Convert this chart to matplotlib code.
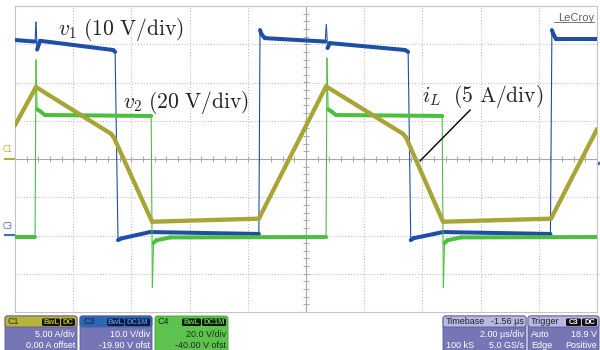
import numpy as np
import matplotlib
matplotlib.use("Agg")
import matplotlib.pyplot as plt
from matplotlib.collections import LineCollection
from matplotlib.patches import FancyBboxPatch

plt.rcParams['mathtext.fontset'] = 'cm'

# channel settings
us_per_div = 2.0
v1_scale, v1_offset = 10.0, -19.90   # C3
v2_scale, v2_offset = 20.0, -40.00   # C4
iL_scale, iL_offset = 5.00, 0.00     # C1

# v1 (C3), time in us from left edge of screen, volts
t_v1 = [0, 0.69, 0.72, 0.76, 0.86, 3.37, 3.44, 3.54, 3.64, 4.64, 8.38, 8.42, 8.47, 8.59,
        10.66, 10.70, 10.74, 10.82, 13.40, 13.51, 13.60, 13.70, 14.71, 18.40, 18.45, 18.50, 18.59, 20.0]
v1 = [51.0, 50.6, 55.7, 48.5, 50.8, 48.4, 47.9, -1.3, -0.9, 0.8, 0.3, 53.6, 52.5, 51.5,
      50.6, 55.0, 48.9, 50.2, 48.4, 47.9, -1.3, -0.8, 0.8, 0.3, 53.6, 52.5, 51.3, 51.3]

# v2 (C4)
t_v2 = [0, 0.69, 0.72, 0.76, 0.86, 1.03, 4.68, 4.72, 4.76, 4.86, 5.33,
        10.69, 10.72, 10.76, 10.86, 11.03, 14.68, 14.72, 14.76, 14.86, 15.33, 20.0]
v2 = [-0.8, -0.8, 91.8, 66.0, 65.0, 63.0, 62.5, -27.0, -3.9, -2.5, -1.0,
      -0.8, 92.8, 66.0, 65.0, 63.0, 62.5, -27.0, -3.9, -2.5, -1.0, -0.8]

# iL (C1), amps
t_iL = [0, 0.72, 3.30, 3.40, 4.71, 8.38, 10.69, 13.33, 13.44, 14.71, 18.42, 20.0]
iL = [4.4, 9.4, 3.3, 2.8, -8.2, -7.8, 9.5, 3.3, 2.8, -8.2, -7.8, 3.9]

PX_X = 58.2 / us_per_div   # pixels per us
PX_Y = 38.25               # pixels per div


def trace(ax, t, vals, scale, offset, color, thick, thin, z):
    x = np.asarray(t, float)
    y = (np.asarray(vals, float) + offset) / scale
    segs = np.stack([np.column_stack([x[:-1], y[:-1]]),
                     np.column_stack([x[1:], y[1:]])], axis=1)
    slope = np.abs(np.diff(y) * PX_Y) / np.maximum(np.abs(np.diff(x)) * PX_X, 1e-9)
    lw = np.where(slope > 5, thin, thick)
    ax.add_collection(LineCollection(segs, colors=color, linewidths=lw,
                                     capstyle='round', joinstyle='round', zorder=z))


fig = plt.figure(figsize=(6, 3.5), dpi=100)
fig.patch.set_facecolor('white')
ax = fig.add_axes([15/600, 38/350, 582/600, 306/350])
ax.set_xlim(0, 20)
ax.set_ylim(-4, 4)
ax.set_xticks([])
ax.set_yticks([])
for s in ax.spines.values():
    s.set_color('#c4c4c4')
    s.set_linewidth(0.8)

# graticule
for k in range(1, 10):
    if k != 5:
        ax.axvline(k * us_per_div, color='#b4b4b4', lw=0.7, ls=(0, (1, 2)), zorder=1)
for k in range(-3, 4):
    if k != 0:
        ax.axhline(k, color='#b4b4b4', lw=0.7, ls=(0, (1, 2)), zorder=1)
ax.axhline(0, color='#a8a8a8', lw=0.8, zorder=1)
ax.axvline(10, color='#a8a8a8', lw=0.8, zorder=1)
tx = np.arange(0.4, 20, 0.4)
ax.vlines(tx, -0.07, 0.07, color='#a8a8a8', lw=0.7, zorder=1)
ty = np.arange(-3.8, 4, 0.2)
ax.hlines(ty, 10 - 0.09, 10 + 0.09, color='#a8a8a8', lw=0.7, zorder=1)

trace(ax, t_v1, v1, v1_scale, v1_offset, '#1f4ea6', 2.9, 0.8, 3)
trace(ax, t_v2, v2, v2_scale, v2_offset, '#4cbf3f', 2.9, 0.8, 4)
trace(ax, t_iL, iL, iL_scale, iL_offset, '#a8a536', 3.1, 3.1, 5)

# labels
ax.text(1.48, 3.24, r'$v_1\ (10\ \mathrm{V/div})$', fontsize=15.5, ha='left', va='baseline',
        color='#222222', zorder=6)
ax.text(3.71, 1.33, r'$v_2\ (20\ \mathrm{V/div})$', fontsize=15.5, ha='left', va='baseline',
        color='#222222', zorder=6)
ax.text(13.99, 1.49, r'$i_L\ \ (5\ \mathrm{A/div})$', fontsize=15.5, ha='left', va='baseline',
        color='#222222', zorder=6)
ax.plot([15.64, 13.92], [1.28, -0.05], color='black', lw=1.0, zorder=6)

# channel ground markers
ax.plot([-0.35, 0], [iL_offset / iL_scale] * 2, color='#b0ac40', lw=1.5, clip_on=False)
ax.text(-0.42, 0.12, 'C1', fontsize=5.5, color='#b0ac40', ha='left', va='bottom')
ax.plot([-0.35, 0], [v1_offset / v1_scale] * 2, color='#3a70c0', lw=1.5, clip_on=False)
ax.text(-0.42, v1_offset / v1_scale + 0.12, 'C3', fontsize=5.5, color='#3a70c0', ha='left', va='bottom')
ax.plot([20.03], [(18.9 + v1_offset) / v1_scale], marker='s', ms=2, color='#3a70c0', clip_on=False)

ax.text(19.9, 3.62, 'LeCroy', fontsize=8, color='#606060', ha='right', va='baseline',
        family='Liberation Sans', zorder=6)
ax.plot([18.52, 19.9], [3.57, 3.57], color='#606060', lw=0.6, zorder=6)

# bottom status panels, pixel coordinates
ov = fig.add_axes([0, 0, 1, 1])
ov.set_xlim(0, 600)
ov.set_ylim(350, 0)
ov.axis('off')

purple = '#7676b6'
lav = '#b9b9e0'
font = dict(family='Liberation Sans', fontsize=6.5)


def box(x0, x1, y0, y1, fc, ec='#5a5a98'):
    ov.add_patch(FancyBboxPatch((x0, y0), x1 - x0, y1 - y0,
                                boxstyle='round,pad=0,rounding_size=2.5',
                                fc=fc, ec=ec, lw=0.6))


def badge(x0, x1, txt, fc, tc):
    ov.add_patch(FancyBboxPatch((x0, 318.5), x1 - x0, 7.5,
                                boxstyle='round,pad=0,rounding_size=1.5', fc=fc, ec='none'))
    ov.text((x0 + x1) / 2, 322.5, txt, color=tc, ha='center', va='center',
            family='Liberation Sans', fontsize=5.5, fontweight='bold')


# C1
box(5, 77, 316, 352, purple)
box(5, 77, 316, 327, '#b8b43a')
ov.text(8, 322, 'C1', color='#303010', va='center', **font)
badge(42, 60, 'BwL', '#151505', '#b8b43a')
badge(61, 75, 'DC', '#151505', '#b8b43a')
ov.text(75, 337, '5.00 A/div', color='white', ha='right', va='baseline', **font)
ov.text(75, 348, '0.00 A offset', color='white', ha='right', va='baseline', **font)

# C3
box(80, 152, 316, 352, purple)
box(80, 152, 316, 327, '#2d66b4')
ov.text(83, 322, 'C3', color='#0c2450', va='center', **font)
badge(107, 124, 'BwL', '#0c1c40', '#4a86d8')
badge(125, 150, 'DC1M', '#0c1c40', '#4a86d8')
ov.text(150, 337, '10.0 V/div', color='white', ha='right', va='baseline', **font)
ov.text(150, 348, '-19.90 V ofst', color='white', ha='right', va='baseline', **font)

# C4
box(155, 228, 316, 352, '#5ec24e', ec='#3f9a35')
ov.text(158, 322, 'C4', color='#123012', va='center', **font)
badge(182, 201, 'BwL', '#0c1a0c', '#5ec24e')
badge(202, 226, 'DC1M', '#0c1a0c', '#5ec24e')
ov.text(226, 337, '20.0 V/div', color='#1c301c', ha='right', va='baseline', **font)
ov.text(226, 348, '-40.00 V ofst', color='#1c301c', ha='right', va='baseline', **font)

# Timebase
box(443, 526, 316, 352, purple)
box(443, 526, 316, 327, lav)
ov.text(446, 322, 'Timebase', color='#202030', va='center', **font)
ov.text(524, 322, '-1.56 \u00b5s', color='#202030', ha='right', va='center', **font)
ov.text(524, 337, '2.00 \u00b5s/div', color='white', ha='right', va='baseline', **font)
ov.text(446, 348, '100 kS', color='white', ha='left', va='baseline', **font)
ov.text(524, 348, '5.0 GS/s', color='white', ha='right', va='baseline', **font)

# Trigger
box(528, 599, 316, 352, purple)
box(528, 599, 316, 327, lav)
ov.text(531, 322, 'Trigger', color='#202030', va='center', **font)
badge(566, 581, 'C3', '#101010', 'white')
badge(582, 597, 'DC', '#101010', 'white')
ov.text(531, 337, 'Auto', color='white', ha='left', va='baseline', **font)
ov.text(597, 337, '18.9 V', color='white', ha='right', va='baseline', **font)
ov.text(531, 348, 'Edge', color='white', ha='left', va='baseline', **font)
ov.text(597, 348, 'Positive', color='white', ha='right', va='baseline', **font)

fig.savefig('out.png', dpi=100)
